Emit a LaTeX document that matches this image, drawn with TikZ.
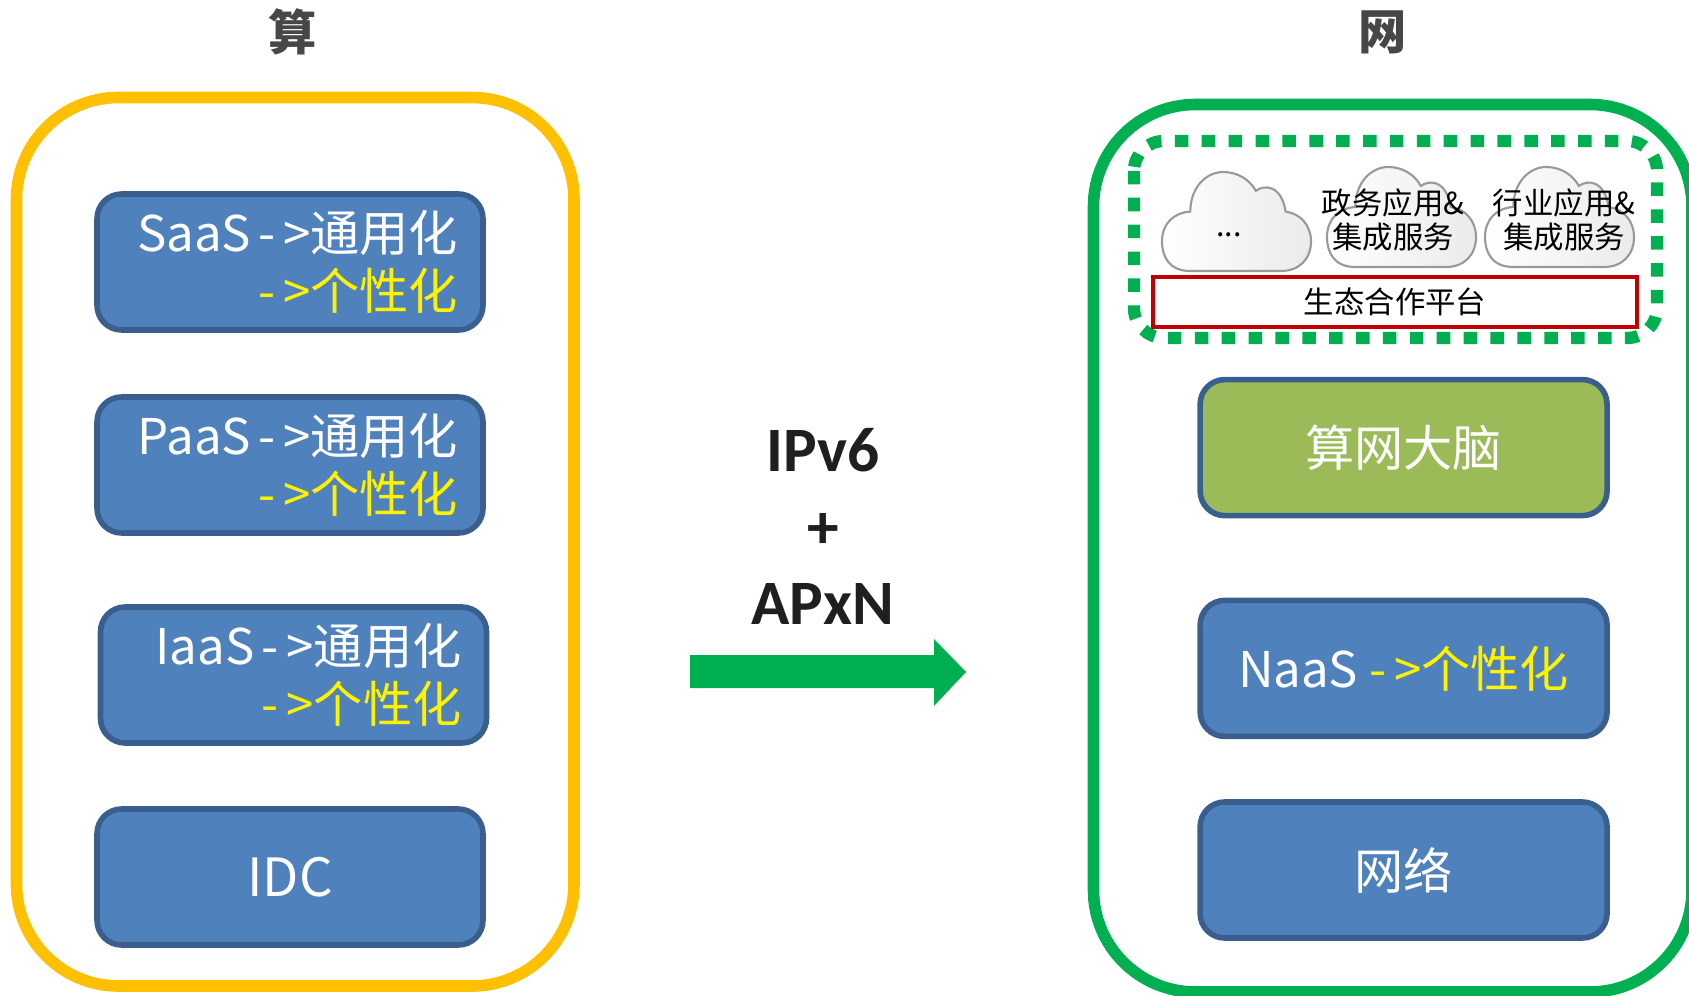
\documentclass[tikz,border=0pt]{standalone}
\usepackage{fontspec}
\setmainfont{Noto Sans CJK SC}
\newfontfamily\latinbold[BoldFont=Carlito Bold]{Carlito}
\newcommand{\gaparrow}{-\hspace{4.5pt}>}
\definecolor{boxblue}{HTML}{4F81BD}
\definecolor{boxedge}{HTML}{3A5F8F}
\definecolor{brainfill}{HTML}{9BBB59}
\definecolor{suanyellow}{HTML}{FFC000}
\definecolor{wanggreen}{HTML}{00B050}
\definecolor{platred}{HTML}{C00000}
\tikzset{
  block/.style={draw=boxedge, fill=boxblue, line width=3.2pt, rounded corners=14pt,
    minimum width=7.72cm, minimum height=2.72cm, text=white, inner xsep=0.5cm,
    font=\fontsize{28}{33}\selectfont},
  stackblock/.style={block, text width=6.72cm, align=right},
  wideblock/.style={block, minimum width=8.14cm},
  frame/.style={line width=6.6pt, rounded corners=58pt},
  title/.style={text=black!72, font=\fontsize{27.5}{33}\selectfont\bfseries},
  overlay label/.style={font=\fontsize{36}{40}\latinbold\bfseries\selectfont, text=black!88},
  cloud label/.style={align=center, text=black, font=\fontsize{17.3}{19.6}\selectfont},
  cloudicon/.pic={
    \path[draw=black!40, line width=1.2pt, left color=white, right color=black!8]
      (0.19,1) .. controls (0.05,1) and (0,0.86) .. (0,0.7)
      .. controls (0,0.52) and (0.08,0.41) .. (0.19,0.40)
      .. controls (0.19,0.15) and (0.30,0) .. (0.41,0)
      .. controls (0.51,0) and (0.59,0.08) .. (0.63,0.19)
      .. controls (0.68,0.13) and (0.80,0.12) .. (0.83,0.40)
      .. controls (0.93,0.42) and (1,0.54) .. (1,0.7)
      .. controls (1,0.88) and (0.92,1) .. (0.80,1) -- cycle;
  }
}
\begin{document}
\begin{tikzpicture}[x=0.02cm, y=-0.02cm]
  \useasboundingbox (0,0) rectangle (1689,996);
  \node[title] (suan) at (293,32) {算};
  \node[title] (wang) at (1383,32) {网};
  \draw[frame, draw=suanyellow] (16.5,97.5) rectangle (574,986);
  \draw[frame, draw=wanggreen] (1093.5,104.5) rectangle (1692,992);

  \node[stackblock] (saas) at (290,262) {SaaS\hspace{4pt}\gaparrow 通用化\\\textcolor{yellow}{\gaparrow 个性化}};
  \node[stackblock] (paas) at (290,465) {PaaS\hspace{4pt}\gaparrow 通用化\\\textcolor{yellow}{\gaparrow 个性化}};
  \node[stackblock] (iaas) at (293.5,675) {IaaS\hspace{4pt}\gaparrow 通用化\\\textcolor{yellow}{\gaparrow 个性化}};
  \node[block, font=\fontsize{30}{33}\selectfont] (idc) at (290,877) {IDC};

  \node[overlay label] (ipv) at (823,450) {IPv6};
  \node[overlay label] (plus) at (823,531) {+};
  \node[overlay label] (apxn) at (823,604) {APxN};
  \fill[wanggreen] (690,655) -- (934,655) -- (934,639) -- (966,672) -- (934,706) -- (934,688) -- (690,688) -- cycle;

  \draw[wanggreen, line width=7pt, rounded corners=17pt, dash pattern=on 7.7pt off 7.6pt]
    (1134,141) rectangle (1657,338);
  \pic[xscale=149, yscale=99] at (1162,172) {cloudicon};
  \pic[xscale=149, yscale=100] at (1327,167) {cloudicon};
  \pic[xscale=149, yscale=100] at (1485,167) {cloudicon};
  \node[cloud label] (other) at (1229,235) {...};
  \node[cloud label] (gov) at (1393,220) {政务应用\&\\集成服务};
  \node[cloud label] (ind) at (1564,220) {行业应用\&\\集成服务};
  \node[cloud label, draw=platred, fill=white, line width=2pt, minimum width=9.68cm, minimum height=1cm] (plat) at (1395,302) {生态合作平台};

  \node[wideblock, fill=brainfill] (brain) at (1403.6,447.6) {算网大脑};
  \node[wideblock] (naas) at (1403.6,668.4) {NaaS \textcolor{yellow}{\gaparrow 个性化}};
  \node[wideblock] (net) at (1403.6,870) {网络};
\end{tikzpicture}
\end{document}
